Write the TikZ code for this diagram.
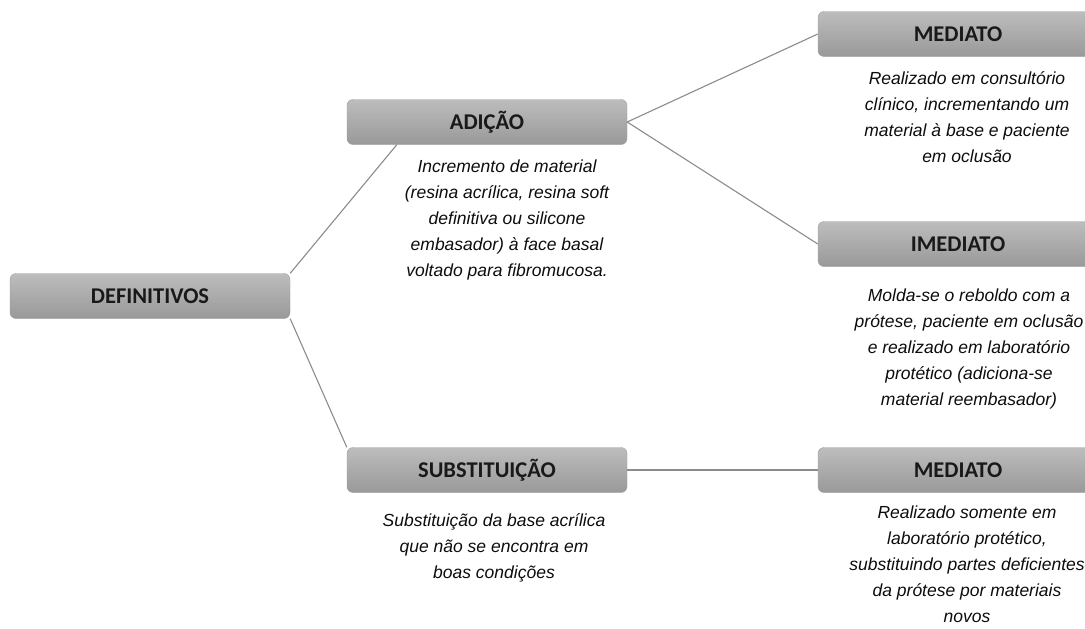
\documentclass[tikz,border=0pt]{standalone}
\usepackage{fontspec}
\setmainfont{Liberation Sans}
\newfontfamily\boxfont{Carlito}
\usepackage{tikz}

\begin{document}
\begin{tikzpicture}[x = 1pt, y = -1pt,
  box/.style = {rectangle, rounded corners = 6pt, minimum width = 280pt, minimum height = 45pt,
    top color = gray!52, bottom color = gray!80, draw = gray!75, line width = 0.4pt,
    text = black!90, font = \boxfont\bfseries\fontsize{22.5}{25}\selectfont},
  desc/.style = {anchor = north, align = center, inner sep = 0pt, text = black!95,
    font = \itshape\fontsize{17.5}{26}\selectfont},
  link/.style = {draw = gray!90, line width = 1.1pt}]
\useasboundingbox (0,0) rectangle (1085,629);
\fill[white] (0,0) rectangle (1085,629);

\node[box] (def) at (150,296) {DEFINITIVOS};
\node[box] (adicao) at (487,122) {ADIÇÃO};
\node[box] (subst) at (487,470) {SUBSTITUIÇÃO};
\node[box] (med) at (958,34) {MEDIATO};
\node[box] (imed) at (958,244) {IMEDIATO};
\node[box] (medsub) at (958,470) {MEDIATO};

\node[desc] (adicaotxt) at (507,160) {Incremento de material\\(resina acrílica, resina soft\\definitiva ou silicone\\embasador) à face basal\\voltado para fibromucosa.};
\node[desc] (medtxt) at (967,71) {Realizado em consultório\\clínico, incrementando um\\material à base e paciente\\em oclusão};
\node[desc] (imedtxt) at (969,289) {Molda-se o reboldo com a\\prótese, paciente em oclusão\\e realizado em laboratório\\protético (adiciona-se\\material reembasador)};
\node[desc] (substtxt) at (494,513) {Substituição da base acrílica\\que não se encontra em\\boas condições};
\node[desc] (medsubtxt) at (967,506) {Realizado somente em\\laboratório protético,\\substituindo partes deficientes\\da prótese por materiais\\novos};

\draw[link] (def.north east) -- ([xshift = 50pt]adicao.south west);
\draw[link] (def.south east) -- (subst.north west);
\draw[link] (adicao.east) -- (med.west);
\draw[link] (adicao.east) -- (imed.west);
\draw[link] (subst.east) -- (medsub.west);
\end{tikzpicture}
\end{document}
